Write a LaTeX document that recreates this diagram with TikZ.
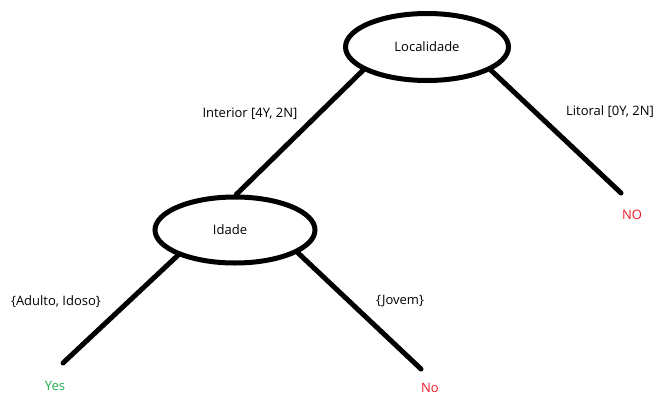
\documentclass[tikz,border=0pt]{standalone}
\usepackage{fontspec}
\setmainfont{Open Sans}
\usetikzlibrary{shapes.geometric}
\definecolor{yesgreen}{HTML}{22B14C}
\definecolor{nored}{HTML}{ED1C24}
\begin{document}
\begin{tikzpicture}[x=1pt,y=-1pt,
  every node/.style={font=\fontsize{13}{15}\selectfont, inner sep=0pt},
  decision/.style={draw, ellipse, line width=5pt, fill=white, minimum width=163pt, minimum height=67pt},
  edge/.style={line width=5pt, line cap=round},
  leafyes/.style={text=yesgreen},
  leafno/.style={text=nored}]
\useasboundingbox[fill=white] (0,0) rectangle (664,410);
\node[decision] (loc) at (427,47) {Localidade};
\node[decision, minimum width=160pt, minimum height=66pt] (ida) at (235,230) {\hspace*{-10pt}Idade};
\coordinate (noEnd) at (621,193);
\coordinate (yesEnd) at (63,363);
\coordinate (no2End) at (421,369);
\node[leafno] (no1) at (632,215) {NO};
\node[leafyes] (yes) at (55,386) {Yes};
\node[leafno] (no2) at (430,388) {No};
\node (lint) at (250,114) {Interior [4Y, 2N]};
\node (llit) at (610,112) {Litoral [0Y, 2N]};
\node (ladu) at (56,302) {\{Adulto, Idoso\}};
\node (ljov) at (400,301) {\{Jovem\}};
\draw[edge] (loc.200) -- (ida.88);
\draw[edge] (loc.340) -- (noEnd);
\draw[edge] (ida.204) -- (yesEnd);
\draw[edge] (ida.340) -- (no2End);
\end{tikzpicture}
\end{document}
